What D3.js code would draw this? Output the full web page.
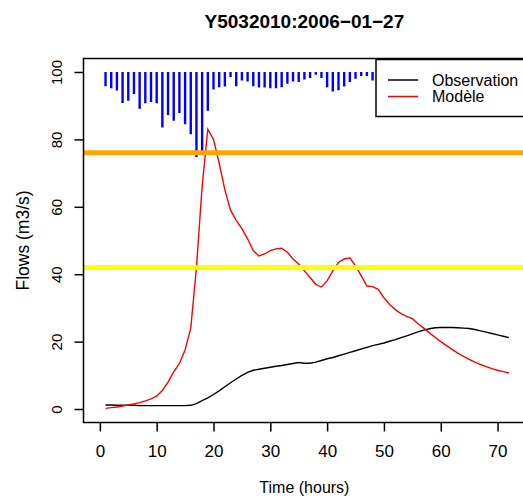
<!DOCTYPE html>
<html>
<head>
<meta charset="utf-8">
<script src="https://cdn.jsdelivr.net/npm/d3@7"></script>
<style>
  body { margin: 0; background: #fff; }
  text { font-family: "Liberation Sans", Arial, sans-serif; }
</style>
</head>
<body>
<script>
var title = "Y5032010:2006\u221201\u221227";

var hours = d3.range(1, 73);

var observation = [1.2, 1.2, 1.1, 1.1, 1.1, 1.1, 1.0, 1.0, 1.0, 1.0,
  1.0, 1.0, 1.0, 1.0, 1.0, 1.1, 1.6, 2.5, 3.3, 4.3,
  5.4, 6.6, 7.8, 8.9, 10.0, 10.9, 11.5, 11.8, 12.1, 12.4,
  12.7, 12.9, 13.2, 13.5, 13.8, 13.6, 13.6, 13.9, 14.4, 14.9,
  15.3, 15.8, 16.3, 16.8, 17.3, 17.8, 18.3, 18.8, 19.2, 19.6,
  20.1, 20.6, 21.2, 21.7, 22.3, 22.9, 23.4, 23.8, 24.1, 24.2,
  24.2, 24.2, 24.1, 24.0, 23.9, 23.6, 23.2, 22.8, 22.4, 22.0,
  21.6, 21.2];

var modele = [0.2, 0.4, 0.6, 0.9, 1.2, 1.5, 1.9, 2.4, 3.0, 3.8,
  5.5, 8.0, 11.0, 13.5, 17.5, 24, 42, 66, 83, 80,
  73, 65, 59, 56, 53.5, 50.5, 47, 45.4, 46, 47,
  47.5, 47.7, 46.5, 44.5, 43, 41, 39, 37, 36.2, 38,
  41, 43.5, 44.5, 44.8, 42.5, 39.5, 36.5, 36.3, 35.5, 33,
  31, 29.5, 28.3, 27.5, 26.8, 25.3, 24, 22.6, 21.3, 20,
  18.8, 17.7, 16.6, 15.6, 14.7, 13.9, 13.2, 12.6, 12, 11.5,
  11.1, 10.7];

// rain, hanging down from the top (100)
var rain = [4.2, 4.8, 5.5, 9.2, 8.5, 6.5, 10.9, 9.3, 8.9, 9.3,
  16.5, 12.8, 14.5, 12.2, 15.5, 18.5, 25.2, 23.8, 11.5, 5.2,
  4.5, 4.3, 1.5, 4.2, 2.5, 2.8, 4.2, 4.6, 4.6, 4.8,
  4.8, 4.5, 3.5, 2.8, 3.0, 2.2, 1.8, 0.8, 1.8, 4.5,
  5.8, 5.4, 4.3, 3.0, 2.0, 1.2, 1.2, 2.5];

var thresholds = [76, 42];
var thresholdColors = ["#FFA500", "#FFFF00"];

var xTicks = [0, 10, 20, 30, 40, 50, 60, 70];
var yTicks = [0, 20, 40, 60, 80, 100];

var legendNames = ["Observation", "Modèle"];
var legendColors = ["#000000", "#FF0000"];

var size = ({ width: 523, height: 500 });
var margin = ({ top: 58.5, right: -2.3, bottom: 77.5, left: 83.5 });

var svg = d3.select("body").append("svg")
            .attr("width", size.width)
            .attr("height", size.height)
            ;

var x_scale = d3.scaleLinear()
                .domain([-2.88, 74.88])
                .range([margin.left, size.width - margin.right])
                ;
var y_scale = d3.scaleLinear()
                .domain([-4, 104])
                .range([size.height - margin.bottom, margin.top])
                ;

svg.append("clipPath").attr("id", "plotclip")
   .append("rect")
   .attr("x", margin.left)
   .attr("y", margin.top)
   .attr("width", size.width - margin.right - margin.left)
   .attr("height", size.height - margin.bottom - margin.top);

var plot = svg.append("g").attr("clip-path", "url(#plotclip)");

// rain bars
plot.selectAll(".rain")
    .data(rain)
    .enter()
    .append("line")
    .attr("x1", (d, i) => x_scale(hours[i]))
    .attr("x2", (d, i) => x_scale(hours[i]))
    .attr("y1", y_scale(100))
    .attr("y2", (d) => y_scale(100 - d))
    .attr("stroke", "#0000FF")
    .attr("stroke-width", 2.4)
    ;

var line = d3.line()
             .x((d, i) => x_scale(hours[i]))
             .y((d) => y_scale(d))
             ;

plot.append("path")
    .datum(observation)
    .attr("d", line)
    .attr("fill", "none")
    .attr("stroke", legendColors[0])
    .attr("stroke-width", 1.4)
    ;

plot.append("path")
    .datum(modele)
    .attr("d", line)
    .attr("fill", "none")
    .attr("stroke", legendColors[1])
    .attr("stroke-width", 1.4)
    ;

plot.selectAll(".thr")
    .data(thresholds)
    .enter()
    .append("line")
    .attr("x1", margin.left)
    .attr("x2", size.width - margin.right)
    .attr("y1", (d) => y_scale(d))
    .attr("y2", (d) => y_scale(d))
    .attr("stroke", (d, i) => thresholdColors[i])
    .attr("stroke-width", 5)
    ;

// box
svg.append("rect")
   .attr("x", margin.left)
   .attr("y", margin.top)
   .attr("width", size.width - margin.right - margin.left)
   .attr("height", size.height - margin.bottom - margin.top)
   .attr("fill", "none")
   .attr("stroke", "#000")
   .attr("stroke-width", 1.5)
   ;

// x axis
var xAxis = svg.append("g")
               .attr("transform", "translate(0," + (size.height - margin.bottom) + ")")
               .call(d3.axisBottom(x_scale).tickValues(xTicks).tickSize(9).tickPadding(13.5).tickSizeOuter(0))
               ;
xAxis.select(".domain").remove();
xAxis.selectAll(".tick line").attr("stroke-width", 1.5);
xAxis.selectAll("text").attr("font-size", 17).attr("fill", "#000");

// y axis
var yAxis = svg.append("g")
               .attr("transform", "translate(" + margin.left + ",0)")
               .call(d3.axisLeft(y_scale).tickValues(yTicks).tickSize(9).tickSizeOuter(0))
               ;
yAxis.select(".domain").remove();
yAxis.selectAll(".tick line").attr("stroke-width", 1.5);
yAxis.selectAll("text")
     .attr("font-size", 15)
     .attr("fill", "#000")
     .attr("x", 0)
     .attr("dy", 0)
     .attr("text-anchor", "middle")
     .attr("transform", "translate(-21.5,0) rotate(-90)")
     ;

// titles
svg.append("text")
   .attr("x", (x_scale.range()[0] + x_scale.range()[1]) / 2)
   .attr("y", 28)
   .attr("text-anchor", "middle")
   .attr("font-size", 19)
   .attr("font-weight", "bold")
   .text(title);

svg.append("text")
   .attr("x", (x_scale.range()[0] + x_scale.range()[1]) / 2)
   .attr("y", 493)
   .attr("text-anchor", "middle")
   .attr("font-size", 16)
   .text("Time (hours)");

svg.append("text")
   .attr("transform", "translate(28.5," + ((margin.top + size.height - margin.bottom) / 2) + ") rotate(-90)")
   .attr("text-anchor", "middle")
   .attr("font-size", 17.5)
   .text("Flows (m3/s)");

// legend
var legend = svg.append("g");
legend.append("rect")
      .attr("x", 376)
      .attr("y", margin.top + 1)
      .attr("width", 150)
      .attr("height", 57)
      .attr("fill", "#fff")
      .attr("stroke", "#000")
      .attr("stroke-width", 1.5)
      ;
var items = legend.selectAll(".item")
                  .data(legendNames)
                  .enter()
                  .append("g")
                  .attr("transform", (d, i) => "translate(388," + (80 + i * 16.5) + ")")
                  ;
items.append("line")
     .attr("x1", 0)
     .attr("x2", 30)
     .attr("stroke", (d, i) => legendColors[i])
     .attr("stroke-width", 1.5)
     ;
items.append("text")
     .attr("x", 44)
     .attr("dy", "0.35em")
     .attr("font-size", 16)
     .text((d) => d)
     ;
</script>
</body>
</html>
